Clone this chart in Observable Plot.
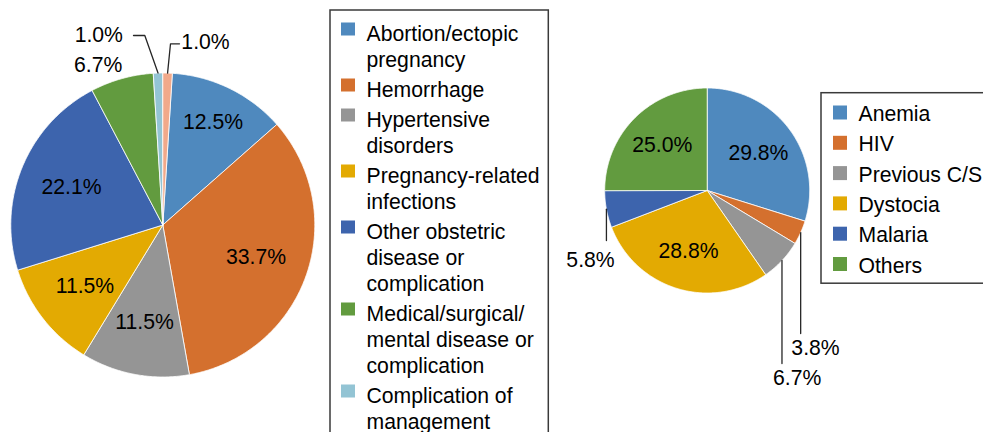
<!DOCTYPE html>
<html><head><meta charset="utf-8">
<script src="https://cdn.jsdelivr.net/npm/d3@7"></script>
<script src="https://cdn.jsdelivr.net/npm/@observablehq/plot@0.6"></script>
<style>
html,body{margin:0;padding:0;background:#fff;}
#chart{width:983px;height:432px;overflow:hidden;}
</style></head><body><div id="chart"></div>
<script>
// ---- Data: left pie (causes) ----
const causeCategories = ["Abortion/ectopic pregnancy","Hemorrhage","Hypertensive disorders","Pregnancy-related infections","Other obstetric disease or complication","Medical/surgical/mental disease or complication","Complication of management","Unspecified"];
const causeLegendLabels = ["Abortion/ectopic\npregnancy","Hemorrhage","Hypertensive\ndisorders","Pregnancy-related\ninfections","Other obstetric\ndisease or\ncomplication","Medical/surgical/\nmental disease or\ncomplication","Complication of\nmanagement","Unspecified"];
const causeValues = [12.5, 33.7, 11.5, 11.5, 22.1, 6.7, 1.0, 1.0];
const causeColors = ["#4F89BE","#D4702E","#959595","#E3AA02","#3D64AD","#629B3F","#93C4D4","#F1A98A"];

// ---- Data: right pie (factors) ----
const factorCategories = ["Anemia","HIV","Previous C/S","Dystocia","Malaria","Others"];
const factorValues = [29.8, 3.8, 6.7, 28.8, 5.8, 25.0];
const factorColors = ["#4F89BE","#D4702E","#959595","#E3AA02","#3D64AD","#629B3F"];

// ---- Layout ----
const FONT = 21.2;
const leftPie = {cx: 162.3, cy: 224.5, r: 152, start: 3.6, k: 0.65,
  kOverride: {0: 0.75},
  outside: {
    5: {label: [-64.6, -159.5]},
    6: {label: [-64, -189.5], leader: [[-18, -189.5], [-29.3, -189.5]]},
    7: {label: [42.7, -182.5], leader: [[7.7, -181.2], [16.7, -181.2]]}
  }};
const rightPie = {cx: 706.7, cy: 190, r: 102.5, start: 0, k: 0.62,
  kOverride: {},
  outside: {
    1: {label: [108.3, 157.7], leaderDown: 143},
    2: {label: [90, 188], leaderDown: 173},
    4: {label: [-116.7, 70], leaderDown: 50}
  }};

function buildPie(key, cats, vals, L) {
  const a0 = L.start * Math.PI / 180;
  const arcs = d3.pie().sort(null).value(d => d).startAngle(a0).endAngle(a0 + 2 * Math.PI)(vals);
  const poly = [], labels = [], leaders = [];
  arcs.forEach((a, i) => {
    const id = key + i;
    poly.push({id, cat: cats[i], x: L.cx, y: L.cy});
    const n = Math.max(2, Math.ceil((a.endAngle - a.startAngle) / (Math.PI / 360)));
    for (let j = 0; j <= n; j++) {
      const t = a.startAngle + (a.endAngle - a.startAngle) * j / n;
      poly.push({id, cat: cats[i], x: L.cx + L.r * Math.sin(t), y: L.cy - L.r * Math.cos(t)});
    }
    poly.push({id, cat: cats[i], x: L.cx, y: L.cy});
    const mid = (a.startAngle + a.endAngle) / 2;
    const text = vals[i].toFixed(1) + "%";
    const o = L.outside[i];
    if (o) {
      labels.push({x: L.cx + o.label[0], y: L.cy + o.label[1], text});
      const ex = L.cx + L.r * Math.sin(mid), ey = L.cy - L.r * Math.cos(mid);
      if (o.leader) {
        leaders.push({id, x: ex, y: ey});
        o.leader.forEach(p => leaders.push({id, x: L.cx + p[0], y: L.cy + p[1]}));
      } else if (o.leaderDown) {
        leaders.push({id, x: ex, y: ey});
        leaders.push({id, x: ex, y: L.cy + o.leaderDown});
      }
    } else {
      const k = L.kOverride[i] ?? L.k;
      labels.push({x: L.cx + k * L.r * Math.sin(mid), y: L.cy - k * L.r * Math.cos(mid), text});
    }
  });
  return {poly, labels, leaders};
}

const P1 = buildPie("c", causeCategories, causeValues, leftPie);
const P2 = buildPie("f", factorCategories, factorValues, rightPie);

// legends
const leftLegend = {x: 330, y: 10, w: 218.3, h: 500, sqx: 341, tx: 366, top: 22, line: 26, gap: 4};
const legL = [];
{
  let top = leftLegend.top;
  causeLegendLabels.forEach((lab, i) => {
    legL.push({cat: causeCategories[i], label: lab, top});
    top += lab.split("\n").length * leftLegend.line + leftLegend.gap;
  });
}
const rightLegend = {x: 821, y: 92.7, w: 200, h: 190.5, sqx: 833, tx: 858, top: 105.5, step: 30.3};
const legR = factorCategories.map((c, i) => ({cat: c, label: c, top: rightLegend.top + i * rightLegend.step}));

const boxes = [
  {x1: leftLegend.x, x2: leftLegend.x + leftLegend.w, y1: leftLegend.y, y2: leftLegend.y + leftLegend.h},
  {x1: rightLegend.x, x2: rightLegend.x + rightLegend.w, y1: rightLegend.y, y2: rightLegend.y + rightLegend.h}
];

const chart = Plot.plot({
  width: 983, height: 432, margin: 0,
  style: {fontFamily: "'Liberation Sans', Arial, sans-serif", background: "#fff", color: "#000"},
  x: {domain: [0, 983], range: [0, 983], axis: null},
  y: {domain: [0, 432], range: [0, 432], axis: null},
  color: {domain: causeCategories.concat(factorCategories), range: causeColors.concat(factorColors)},
  marks: [
    Plot.line(P1.poly.concat(P2.poly), {x: "x", y: "y", z: "id", fill: "cat", stroke: "#fff", strokeWidth: 0.8, curve: "linear"}),
    Plot.line(P1.leaders.concat(P2.leaders), {x: "x", y: "y", z: "id", stroke: "#262626", strokeWidth: 1.3}),
    Plot.text(P1.labels.concat(P2.labels), {x: "x", y: "y", text: "text", fill: "#000", fontSize: FONT, textAnchor: "middle", lineAnchor: "middle"}),
    Plot.rect(boxes, {x1: "x1", x2: "x2", y1: "y1", y2: "y2", fill: "none", stroke: "#3a3a3a", strokeWidth: 1.5}),
    Plot.rect(legL, {x1: leftLegend.sqx, x2: leftLegend.sqx + 14, y1: d => d.top + 0.5, y2: d => d.top + 13.5, fill: "cat"}),
    Plot.text(legL, {x: leftLegend.tx, y: "top", text: "label", fill: "#000", fontSize: FONT, textAnchor: "start", lineAnchor: "top", lineHeight: leftLegend.line / FONT}),
    Plot.rect(legR, {x1: rightLegend.sqx, x2: rightLegend.sqx + 14, y1: d => d.top, y2: d => d.top + 14, fill: "cat"}),
    Plot.text(legR, {x: rightLegend.tx, y: "top", text: "label", fill: "#000", fontSize: FONT, textAnchor: "start", lineAnchor: "top"})
  ]
});
document.getElementById("chart").appendChild(chart);
</script></body></html>
